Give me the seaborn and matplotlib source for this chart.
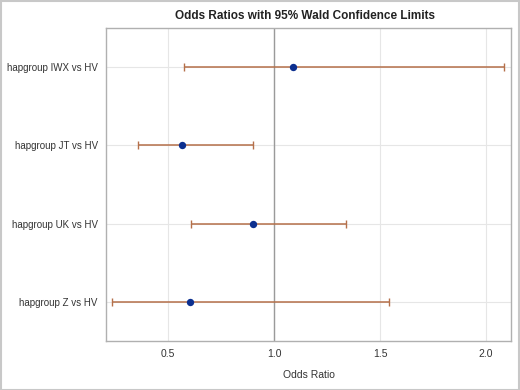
import matplotlib
matplotlib.use("Agg")
import matplotlib.pyplot as plt
import seaborn as sns
import pandas as pd
import numpy as np

labels = ["hapgroup IWX vs HV", "hapgroup JT vs HV", "hapgroup UK vs HV", "hapgroup Z vs HV"]
estimate = [1.09, 0.566, 0.901, 0.604]
lower = [0.575, 0.358, 0.608, 0.236]
upper = [2.085, 0.901, 1.340, 1.542]
xticks = [0.5, 1.0, 1.5, 2.0]

df = pd.DataFrame({"label": labels, "est": estimate, "lo": lower, "hi": upper})

sns.set_theme(style="white")
plt.rcParams["font.family"] = ["Liberation Sans", "DejaVu Sans"]

fig = plt.figure(figsize=(5.2, 3.9), dpi=100)
ax = fig.add_axes([106/520, 1-341/390, (511-106)/520, (341-28)/390])

ypos = np.arange(len(labels))
ax.errorbar(df["est"], ypos,
            xerr=[df["est"] - df["lo"], df["hi"] - df["est"]],
            fmt="none", ecolor="#b5704a", elinewidth=1.1, capsize=3, capthick=1.0, zorder=2)
sns.scatterplot(x=df["est"].values, y=ypos, ax=ax, color="#0c2f8f", s=28,
                edgecolor="#0c2f8f", linewidth=0, zorder=3)

ax.axvline(1.0, color="#9a9a9a", lw=1.0, zorder=1)
ax.set_xlim(0.2075, 2.118)
ax.set_ylim(len(labels) - 0.5, -0.5)
ax.set_yticks(ypos)
ax.set_yticklabels(labels, fontsize=7, color="#333333")
ax.set_xticks(xticks)
ax.set_xticklabels([f"{v:.1f}" for v in xticks], fontsize=7.5, color="#333333")
ax.grid(True, color="#e6e6e6", lw=0.8, zorder=0)
ax.set_axisbelow(True)
ax.tick_params(axis="y", length=0, pad=6)
ax.tick_params(axis="x", length=0, pad=6)
for s in ax.spines.values():
    s.set_color("#b0b0b0")
    s.set_linewidth(1.0)
ax.set_xlabel("Odds Ratio", fontsize=7.5, color="#333333", labelpad=8)
ax.set_ylabel("")
fig.text(0.5865, 1-16/390, "Odds Ratios with 95% Wald Confidence Limits",
         ha="center", va="center", fontsize=8.5, fontweight="bold", color="#222222")

fig.patches.append(plt.Rectangle((0.001, 0.001), 0.997, 0.997, transform=fig.transFigure,
                                 fill=False, edgecolor="#c8c8c8", lw=1.5))
fig.savefig("out.png", dpi=100)
